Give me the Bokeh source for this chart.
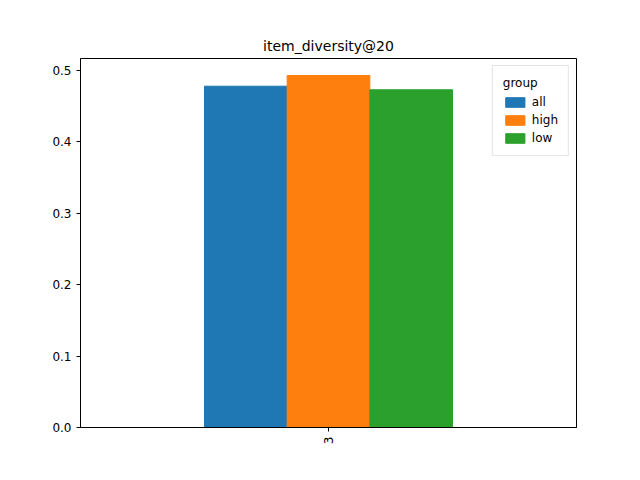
from bokeh.plotting import figure
from bokeh.models import Range1d, FixedTicker, ColumnDataSource, NumeralTickFormatter
from bokeh.embed import file_html
from bokeh.resources import INLINE
import math

groups = ["all", "high", "low"]
values = [0.478, 0.493, 0.473]
colors = ["#1f77b4", "#ff7f0e", "#2ca02c"]
category = "3"

p = figure(width=624, height=464, output_backend="svg", toolbar_location=None,
           x_range=Range1d(-0.5, 0.5), y_range=Range1d(0, 0.5168),
           title="item_diversity@20", min_border_left=80, min_border_right=48,
           min_border_top=58, min_border_bottom=37)
p.title.align = "center"
p.title.text_font = "DejaVu Sans"
p.title.text_font_style = "normal"
p.title.text_font_size = "14px"
p.title.text_color = "black"
p.xgrid.visible = False
p.ygrid.visible = False
p.outline_line_color = "black"

w = 0.5 / len(groups)
for i, (g, v, c) in enumerate(zip(groups, values, colors)):
    src = ColumnDataSource(dict(x=[-0.25 + w * (i + 0.5)], top=[v]))
    p.vbar(x="x", top="top", width=w, bottom=0, source=src, color=c, legend_label=g)

p.xaxis.ticker = FixedTicker(ticks=[0])
p.xaxis.major_label_overrides = {0: category}
p.xaxis.major_label_orientation = math.pi / 2
p.yaxis.ticker = FixedTicker(ticks=[0, 0.1, 0.2, 0.3, 0.4, 0.5])
p.yaxis.formatter = NumeralTickFormatter(format="0.0")
for ax in (p.xaxis, p.yaxis):
    ax.major_label_text_font = "DejaVu Sans"
    ax.major_label_text_font_size = "12px"
    ax.major_label_text_color = "black"
    ax.axis_line_color = "black"
    ax.major_tick_line_color = "black"
    ax.minor_tick_line_color = None
    ax.major_tick_out = 4
    ax.major_tick_in = 0

p.legend.title = "group"
p.legend.location = "top_right"
p.legend.title_text_font = "DejaVu Sans"
p.legend.title_text_font_style = "normal"
p.legend.title_text_color = "black"
p.legend.title_text_font_size = "12px"
p.legend.label_text_font = "DejaVu Sans"
p.legend.label_text_font_size = "12px"
p.legend.label_text_color = "black"
p.legend.glyph_width = 24
p.legend.glyph_height = 12
p.legend.spacing = 4
p.legend.border_line_color = "#cccccc"
p.legend.margin = 7

open("out.html", "w").write(file_html(p, INLINE))
